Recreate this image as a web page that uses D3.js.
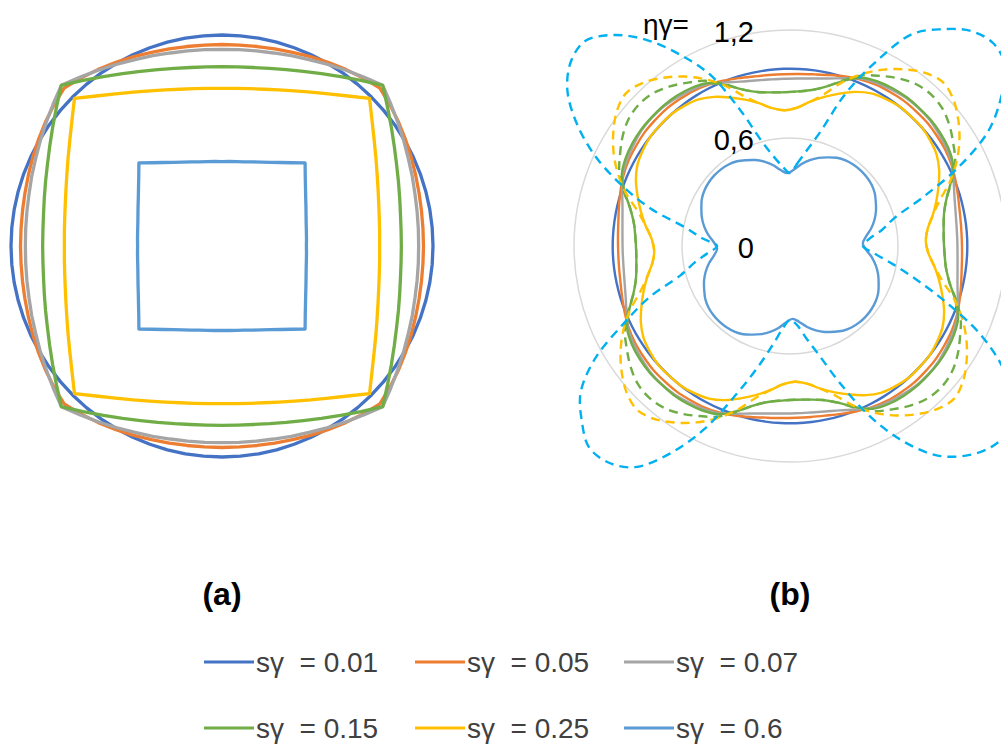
<!DOCTYPE html>
<html>
<head>
<meta charset="utf-8">
<script src="https://cdn.jsdelivr.net/npm/d3@7"></script>
<style>
  body { margin: 0; background: #fff; }
  text { font-family: "Liberation Sans", Arial, sans-serif; white-space: pre; }
</style>
</head>
<body>
<svg id="chart" width="1001" height="744"></svg>
<script>
// Sampling angles for one octant (degrees from an axis, 0 = axis, 45 = diagonal).
// Most curves have the square symmetry, so one octant describes them fully.
const octantAngles = [0, 5, 10, 15, 20, 25, 30, 35, 40, 45];
const turnStep = 5;

const seriesLabels = ["sγ  = 0.01", "sγ  = 0.05", "sγ  = 0.07", "sγ  = 0.15", "sγ  = 0.25", "sγ  = 0.6"];
const seriesColors = ["#4472C4", "#ED7D31", "#A5A5A5", "#70AD47", "#FFC000", "#5B9BD5"];

// (a) normalised shape radius per octant angle
const shapeS001 = [1.000, 1.000, 1.000, 1.000, 1.000, 1.000, 1.000, 1.000, 1.000, 1.000];
const shapeS005 = [0.955, 0.956, 0.960, 0.967, 0.977, 0.990, 1.005, 1.022, 1.040, 1.058];
const shapeS007 = [0.932, 0.934, 0.939, 0.947, 0.960, 0.975, 0.995, 1.018, 1.045, 1.077];
const shapeS015 = [0.850, 0.852, 0.859, 0.872, 0.890, 0.913, 0.943, 0.980, 1.024, 1.077];
const shapeS025 = [0.747, 0.750, 0.757, 0.769, 0.787, 0.811, 0.842, 0.880, 0.928, 0.989];
const shapeS06  = [0.400, 0.402, 0.406, 0.413, 0.424, 0.439, 0.458, 0.483, 0.515, 0.557];

// (b) ηγ per octant angle, solid curves
const etaS001 = [0.985, 0.985, 0.985, 0.985, 0.985, 0.985, 0.985, 0.985, 0.985, 0.985];
const etaS005 = [0.955, 0.957, 0.963, 0.975, 0.990, 1.005, 1.015, 1.020, 1.025, 1.025];
const etaS007 = [0.930, 0.932, 0.940, 0.955, 0.980, 1.010, 1.025, 1.035, 1.045, 1.048];
const etaS015 = [0.855, 0.860, 0.875, 0.910, 0.965, 1.015, 1.035, 1.045, 1.050, 1.050];
const etaS025 = [0.755, 0.770, 0.810, 0.850, 0.890, 0.930, 0.960, 0.975, 0.985, 0.985];
const etaS06  = [0.405, 0.425, 0.460, 0.490, 0.515, 0.535, 0.555, 0.567, 0.573, 0.575];

// (b) ηγ per octant angle, dashed curves
const etaDashS015 = [0.855, 0.860, 0.875, 0.910, 0.970, 1.030, 1.070, 1.110, 1.140, 1.150];
const etaDashS025 = [0.755, 0.770, 0.810, 0.870, 0.960, 1.040, 1.110, 1.170, 1.220, 1.245];
// dashed sγ = 0.6 over the whole turn, every 5°, clockwise from the top
const etaDashS06 = [
  0.405, 0.46, 0.54, 0.66, 0.90, 1.13, 1.36, 1.47, 1.56, 1.595, 1.56, 1.43, 1.27, 1.03, 0.78, 0.60, 0.52, 0.44,
  0.405, 0.47, 0.58, 0.73, 0.93, 1.17, 1.37, 1.52, 1.59, 1.58, 1.52, 1.42, 1.25, 1.04, 0.81, 0.63, 0.52, 0.44,
  0.41, 0.46, 0.56, 0.70, 0.88, 1.12, 1.33, 1.50, 1.57, 1.58, 1.51, 1.42, 1.25, 1.02, 0.83, 0.63, 0.54, 0.46,
  0.405, 0.49, 0.59, 0.80, 1.00, 1.20, 1.37, 1.51, 1.59, 1.61, 1.53, 1.40, 1.23, 1.05, 0.80, 0.60, 0.50, 0.44
];
const dashColors = ["#70AD47", "#FFC000", "#00B0F0"];

// the symmetric ηγ curves sit turned slightly anticlockwise (degrees)
const etaTurn = -2;

const radialTicks = [0, 0.6, 1.2];
const radialTickLabels = ["0", "0,6", "1,2"];
const panelLabels = ["(a)", "(b)"];

const svg = d3.select("#chart");

// Unfold an octant table onto the full turn using the square symmetry.
function fullTurn(octant, turn = 0) {
  const pts = [];
  for (let a = 0; a < 360; a += turnStep) {
    let t = a % 90;
    if (t > 45) t = 90 - t;
    pts.push({ a: a + turn, r: octant[octantAngles.indexOf(t)] });
  }
  return pts;
}
// A table that already covers the whole turn.
function wholeTurn(values) {
  return values.map((r, i) => ({ a: i * turnStep, r: r }));
}

// ---------- panel (a) ----------
const rA = d3.scaleLinear().domain([0, 1]).range([0, 211]);
const gA = svg.append("g").attr("transform", "translate(222,246)");
const lineA = d3.lineRadial()
  .angle(d => d.a * Math.PI / 180)
  .radius(d => rA(d.r))
  .curve(d3.curveLinearClosed);
[shapeS001, shapeS005, shapeS007, shapeS015, shapeS025, shapeS06].forEach((s, i) => {
  gA.append("path")
    .attr("d", lineA(fullTurn(s)))
    .attr("fill", "none")
    .attr("stroke", seriesColors[i])
    .attr("stroke-width", 3.3)
    .attr("stroke-linejoin", "round");
});

// ---------- panel (b) ----------
const rB = d3.scaleLinear().domain([0, 1.2]).range([0, 216]);
const gB = svg.append("g").attr("transform", "translate(790,246)");

gB.selectAll("circle.grid")
  .data(radialTicks.filter(v => v > 0))
  .join("circle")
  .attr("class", "grid")
  .attr("r", d => rB(d))
  .attr("fill", "none")
  .attr("stroke", "#D9D9D9")
  .attr("stroke-width", 1.5);

gB.selectAll("text.tick")
  .data(radialTicks)
  .join("text")
  .attr("class", "tick")
  .attr("x", -36)
  .attr("y", d => -rB(d) + 12)
  .attr("text-anchor", "end")
  .attr("font-size", 29)
  .attr("fill", "#000")
  .text((d, i) => radialTickLabels[i]);

gB.append("text")
  .attr("x", -147)
  .attr("y", -212)
  .attr("font-size", 28)
  .attr("fill", "#000")
  .text("ηγ=");

const lineB = d3.lineRadial()
  .angle(d => d.a * Math.PI / 180)
  .radius(d => rB(d.r))
  .curve(d3.curveCatmullRomClosed.alpha(0.5));

[etaS001, etaS005, etaS007, etaS015, etaS025, etaS06].forEach((s, i) => {
  gB.append("path")
    .attr("d", lineB(fullTurn(s, etaTurn)))
    .attr("fill", "none")
    .attr("stroke", seriesColors[i])
    .attr("stroke-width", 2.4);
});
[fullTurn(etaDashS015, etaTurn), fullTurn(etaDashS025, etaTurn), wholeTurn(etaDashS06)].forEach((pts, i) => {
  gB.append("path")
    .attr("d", lineB(pts))
    .attr("fill", "none")
    .attr("stroke", dashColors[i])
    .attr("stroke-width", 2.4)
    .attr("stroke-dasharray", "9,6");
});

// ---------- panel captions ----------
svg.selectAll("text.panel")
  .data(panelLabels)
  .join("text")
  .attr("class", "panel")
  .attr("x", (d, i) => [222, 790][i])
  .attr("y", 605)
  .attr("text-anchor", "middle")
  .attr("font-size", 32)
  .attr("font-weight", "bold")
  .attr("fill", "#000")
  .text(d => d);

// ---------- legend ----------
const legendX = [204, 415, 624];
const legendY = [662, 728];
const legend = svg.append("g");
seriesLabels.forEach((lab, i) => {
  const x = legendX[i % 3], y = legendY[Math.floor(i / 3)];
  legend.append("line")
    .attr("x1", x).attr("x2", x + 50)
    .attr("y1", y).attr("y2", y)
    .attr("stroke", seriesColors[i])
    .attr("stroke-width", 3);
  legend.append("text")
    .attr("x", x + 52)
    .attr("y", y + 10)
    .attr("font-size", 28)
    .attr("fill", "#404040")
    .text(lab);
});
</script>
</body>
</html>
